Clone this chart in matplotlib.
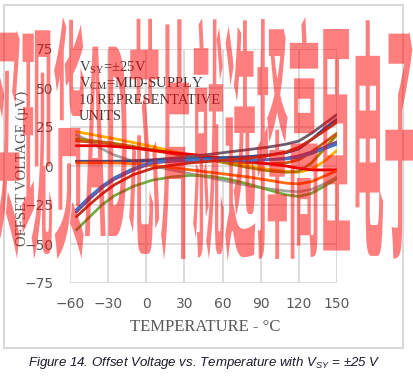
import matplotlib
matplotlib.use('Agg')
import matplotlib.pyplot as plt
from matplotlib.patches import Rectangle
from matplotlib.patheffects import AbstractPathEffect
from matplotlib.transforms import Affine2D

plt.rcParams['mathtext.fontset'] = 'custom'
plt.rcParams['mathtext.rm'] = 'Liberation Serif'
plt.rcParams['mathtext.it'] = 'Liberation Sans:italic'

temps = [-55, -45, -35, -25, -10, 5, 20, 35, 50, 65, 80, 95, 110, 120, 130, 140, 150]

gold = [22, 20.5, 19, 17.5, 15, 12.5, 9.5, 7, 4.5, 2, 0, -2, -3.5, -4, -2, 3, 10]
gray = [20, 16, 11, 7, 3, 0, -2.5, -5, -7.5, -10, -12.5, -14.5, -16, -16.5, -15, -11.5, -7]
olive = [17.5, 16.5, 15.5, 14.5, 12.5, 10.5, 8.5, 6, 4, 1.5, -1, -3, -4, -3.5, 2, 11, 20]
brown = [16, 15.5, 15, 14, 12, 10, 8, 6, 4.5, 3, 2, 1.5, 2, 4, 9, 15, 21]
red = [13, 13, 13, 12.5, 11.5, 10, 8.5, 7.5, 6, 4.5, 3, 1.5, 0, -1.5, -2.5, -2.5, -2.5]
charcoal = [3, 3, 3, 3, 3.5, 4, 5, 6, 7.5, 9, 10.5, 12, 14, 16, 21, 27, 33]
darkblue = [3, 3, 3, 3, 3, 3.5, 4, 4.5, 5, 5.5, 6, 7, 8.5, 11, 17, 24, 30]
orange = [2, 2, 2, 2, 1.5, 0.5, -1, -2.5, -4, -5.5, -7, -9, -11, -11.5, -10, -6.5, -3]
purple = [-29.5, -21.5, -14, -8.5, -2.5, 2, 3, 3.5, 3.5, 3.5, 3.5, 4, 5, 6.5, 9, 12, 15.5]
blue = [-28, -20, -13, -7.5, -1.5, 2.5, 3.5, 4, 4, 4, 4, 4, 4.5, 5.5, 8, 11, 14]
darkred = [-32.5, -25, -18, -12, -5.5, -1.5, 0.5, 2, 3, 4, 5, 6.5, 9, 12, 17, 22.5, 28]
green = [-41, -33, -25, -19, -13, -9, -7, -6, -6.5, -8.5, -11.5, -15, -18.5, -19.5, -17.5, -13, -8]

xticks = [-60, -30, 0, 30, 60, 90, 120, 150]
yticks = [-75, -50, -25, 0, 25, 50, 75]

notes = ['V$_{\\mathrm{SY}}$=±25V', 'V$_{\\mathrm{CM}}$=MID-SUPPLY',
         '10 REPRESENTATIVE', 'UNITS']
caption = 'Figure 14. Offset Voltage vs. Temperature with V$_{SY}$ = ±25 V'
watermark = '买现货AD芯片就选择高臣电子'


class Stretch(AbstractPathEffect):
    # scale the glyph outlines around a point given in figure fraction
    def __init__(self, sx, sy, cx, cy):
        super().__init__()
        self.sx, self.sy, self.cx, self.cy = sx, sy, cx, cy

    def draw_path(self, renderer, gc, tpath, affine, rgbFace=None):
        w, h = renderer.get_canvas_width_height()
        cx, cy = self.cx * w, self.cy * h
        t = affine + Affine2D().translate(-cx, -cy).scale(self.sx, self.sy).translate(cx, cy)
        renderer.draw_path(gc, tpath, t, rgbFace)


fig = plt.figure(figsize=(4.14, 3.79), dpi=100)
ax = fig.add_axes([70 / 414, 1 - 283 / 379, 267 / 414, 234 / 379])

series = [
    (gray, '#A5A5A5'), (gold, '#FFB000'), (olive, '#A88400'), (brown, '#C55A11'),
    (red, '#E60000'), (charcoal, '#6F5B6E'), (darkblue, '#2F4D8C'), (orange, '#FF6A10'),
    (purple, '#7B4A8E'), (blue, '#4472C4'), (darkred, '#C0301A'), (green, '#70AD47'),
]
for vals, col in series:
    ax.plot(temps, vals, color=col, lw=2, solid_capstyle='round')

ax.set_xlim(-60, 150)
ax.set_ylim(-75, 75)
ax.set_xticks(xticks)
ax.set_yticks(yticks)
ax.grid(True, color='#D9D9D9', lw=1.3)
ax.set_axisbelow(True)
for s in ax.spines.values():
    s.set_visible(False)
ax.tick_params(length=0, colors='#595959', labelsize=10)
ax.tick_params(axis='x', pad=10)
ax.tick_params(axis='y', pad=12)

for i, t in enumerate(notes):
    ax.text(79 / 414, 1 - (68 + i * 16) / 379, t, transform=fig.transFigure,
            family='Liberation Serif', fontsize=10.5, color='#404040', va='center')

fig.text(22 / 414, 1 - 168 / 379, 'OFFSET VOLTAGE (µV)', rotation=90,
         family='Liberation Serif', fontsize=10.5, color='#595959', ha='center', va='center')
fig.text(205 / 414, 1 - 327 / 379, 'TEMPERATURE - °C',
         family='Liberation Serif', fontsize=12, color='#595959', ha='center', va='center')
fig.text(204 / 414, 1 - 363 / 379, caption, style='italic', family='Liberation Sans',
         fontsize=9.5, color='#1A1A2A', ha='center', va='center')

fig.patches.append(Rectangle((4 / 414, 1 - 348 / 379), 399 / 414, 343 / 379,
                             transform=fig.transFigure, fill=False, ec='#D9D9D9', lw=1.5))

wy = 1 - 164 / 379
fig.text(0.49, wy, watermark, family=['Noto Sans CJK SC', 'DejaVu Sans'], weight='bold',
         fontsize=23, color='red', alpha=0.5, ha='center', va='center',
         path_effects=[Stretch(1.0, 8.0, 0.49, wy)])

fig.savefig('out.png', dpi=100)
